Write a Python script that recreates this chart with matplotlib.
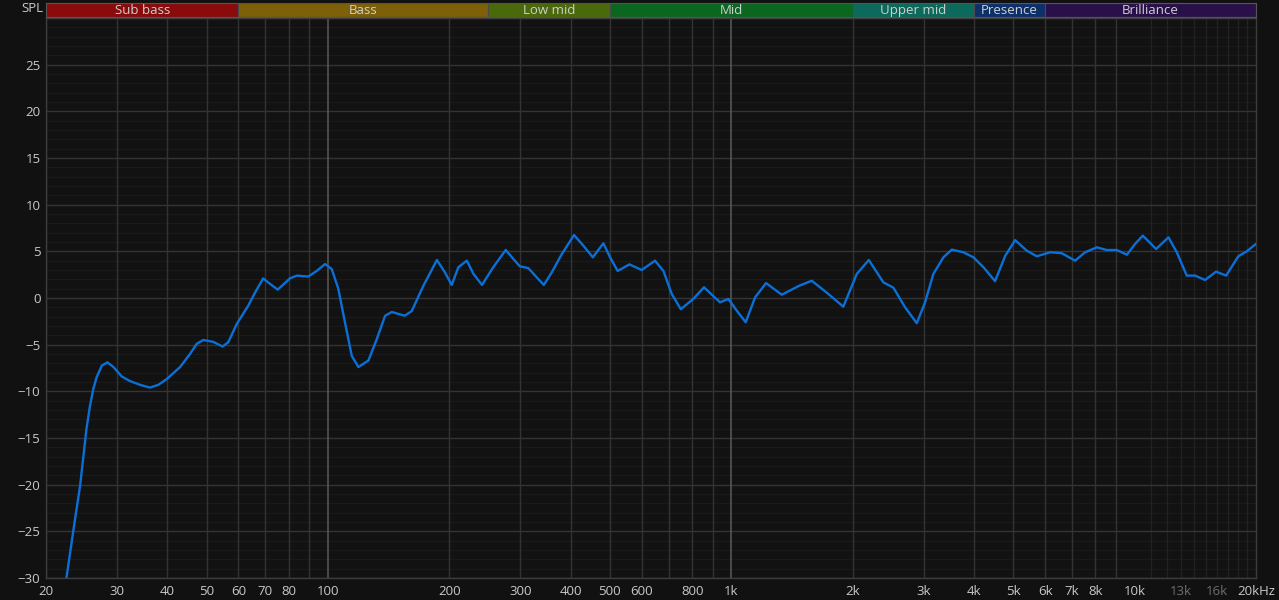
import matplotlib
matplotlib.use('Agg')
import matplotlib.pyplot as plt

# ---------------- data ----------------
freq_hz = [22.3, 23.4, 24.3, 25.2, 25.7, 26.2, 26.7, 27.5, 28.4, 29.4, 30.8, 32.3, 34.2, 36.2,
           38.0, 39.8, 43.0, 45.5, 47.3, 49.1, 52.0, 54.8, 56.6, 59.4, 63.5, 66.0, 69.1, 71.9,
           75.1, 80.5, 83.7, 89.4, 93.8, 98.4, 102.2, 106.1, 110.2, 114.6, 119, 126, 132.2,
           138.6, 144, 155, 161.4, 172.4, 186.3, 195, 202.8, 210.6, 221, 229.4, 241, 257, 276,
           288, 299, 314, 329.6, 343, 359, 380, 407.6, 430, 453.7, 482, 500.6, 523, 559, 600,
           647, 679, 712, 750, 805, 856, 900, 938, 983.6, 1032, 1086, 1146, 1220, 1334, 1472,
           1583, 1722, 1896, 2047, 2193, 2383, 2524, 2698, 2884, 3024, 3170, 3358, 3522, 3764,
           3984, 4220, 4508, 4776, 5056, 5404, 5722, 6174, 6598, 7120, 7540, 8058, 8532, 9032,
           9572, 10030, 10480, 11306, 12132, 12724, 13472, 14126, 14950, 15924, 16866, 18080,
           18974, 20000]
spl_db = [-31.0, -24.8, -20.1, -14.0, -11.6, -9.75, -8.5, -7.25, -6.9, -7.4, -8.4, -8.9, -9.3, -9.6,
          -9.3, -8.7, -7.4, -6.0, -4.9, -4.5, -4.7, -5.2, -4.75, -2.8, -0.8, 0.6, 2.1, 1.5,
          0.9, 2.1, 2.4, 2.3, 2.9, 3.64, 3.1, 1.0, -2.6, -6.2, -7.4, -6.7, -4.4,
          -1.9, -1.5, -1.9, -1.4, 1.3, 4.07, 2.75, 1.4, 3.3, 4.0, 2.6, 1.4, 3.3, 5.15,
          4.2, 3.4, 3.2, 2.2, 1.4, 2.75, 4.7, 6.75, 5.6, 4.36, 5.86, 4.36, 2.9, 3.6, 3.0,
          4.0, 2.9, 0.43, -1.2, -0.1, 1.15, 0.25, -0.46, -0.1, -1.36, -2.6, 0.07, 1.6, 0.35, 1.3,
          1.85, 0.6, -0.93, 2.57, 4.07, 1.68, 1.1, -1.0, -2.7, -0.46, 2.57, 4.36, 5.18, 4.9,
          4.36, 3.3, 1.8, 4.5, 6.2, 5.07, 4.47, 4.9, 4.8, 4.0, 4.9, 5.43, 5.14, 5.14,
          4.64, 5.8, 6.68, 5.25, 6.5, 4.9, 2.4, 2.4, 1.93, 2.82, 2.4, 4.47,
          5.0, 5.8]

band_names = ["Sub bass", "Bass", "Low mid", "Mid", "Upper mid", "Presence", "Brilliance"]
band_edges = [20, 60, 250, 500, 2000, 4000, 6000, 20000]
band_colors = ["#8a0b0b", "#7e6009", "#4a690b", "#0b671f", "#0b6a5b", "#0d3069", "#29104b"]

xtick_freqs = [20, 30, 40, 50, 60, 70, 80, 100, 200, 300, 400, 500, 600, 800, 1000,
               2000, 3000, 4000, 5000, 6000, 7000, 8000, 10000, 13000, 16000, 20000]
xtick_labels = ["20", "30", "40", "50", "60", "70", "80", "100", "200", "300", "400", "500",
                "600", "800", "1k", "2k", "3k", "4k", "5k", "6k", "7k", "8k", "10k", "13k",
                "16k", "20kHz"]
dim_labels = ["13k", "16k"]
ytick_vals = [-30, -25, -20, -15, -10, -5, 0, 5, 10, 15, 20, 25]

# ---------------- style ----------------
plt.rcParams['font.family'] = ['Open Sans', 'DejaVu Sans']
BG = '#121212'
TXT = '#c9c9c9'
W, H = 1279, 600

fig = plt.figure(figsize=(W / 100, H / 100), dpi=100, facecolor='#111111')
ax = fig.add_axes([46 / W, 22 / H, 1210 / W, 560 / H])
ax.set_facecolor(BG)
ax.set_xscale('log')
ax.set_xlim(20, 20000)
ax.set_ylim(-30, 30)

# grid
for v in range(-30, 31):
    if v % 5 == 0:
        ax.axhline(v, color='#343434', lw=1.0, zorder=1)
    else:
        ax.axhline(v, color='#1a1a1a', lw=0.8, zorder=0.5)
for dec in [10, 100, 1000]:
    for m in range(1, 10):
        f = dec * m
        if f < 20 or f > 10000:
            continue
        if m == 1:
            ax.axvline(f, color='#5a5a5a', lw=1.1, zorder=1.2)
        else:
            ax.axvline(f, color='#333333', lw=1.0, zorder=1)
for f in range(11000, 20000, 1000):
    ax.axvline(f, color='#222222', lw=0.9, zorder=0.8)

for s in ax.spines.values():
    s.set_color('#3c3c3c')
    s.set_linewidth(1.0)

ax.plot(freq_hz, spl_db, color='#0a70d8', lw=1.7, zorder=5, solid_joinstyle='round',
        solid_capstyle='round')

ax.set_xticks(xtick_freqs, labels=xtick_labels)
ax.minorticks_off()
ax.set_yticks(ytick_vals)
ax.tick_params(axis='both', length=0, labelsize=9.5, colors=TXT)
ax.tick_params(axis='x', pad=5)
ax.tick_params(axis='y', pad=4)
for lab in ax.get_xticklabels():
    if lab.get_text() in dim_labels:
        lab.set_color('#6f6f6f')

fig.text(43 / W, 1 - 9 / H, "SPL", color=TXT, fontsize=9.5, ha='right', va='center')

# band bar
bax = fig.add_axes([46 / W, (H - 17) / H, 1210 / W, 14 / H])
bax.set_xscale('log')
bax.set_xlim(20, 20000)
bax.set_ylim(0, 1)
bax.set_facecolor(BG)
for i, name in enumerate(band_names):
    lo, hi = band_edges[i], band_edges[i + 1]
    bax.axvspan(lo, hi, facecolor=band_colors[i], edgecolor='#4a4a4a', lw=0.8)
    bax.text((lo * hi) ** 0.5, 0.45, name, color='#cfcfcf', fontsize=9.5,
             ha='center', va='center')
bax.set_xticks([])
bax.set_yticks([])
bax.minorticks_off()
for s in bax.spines.values():
    s.set_color('#555555')
    s.set_linewidth(0.8)

fig.savefig('out.png', dpi=100, facecolor=fig.get_facecolor())
